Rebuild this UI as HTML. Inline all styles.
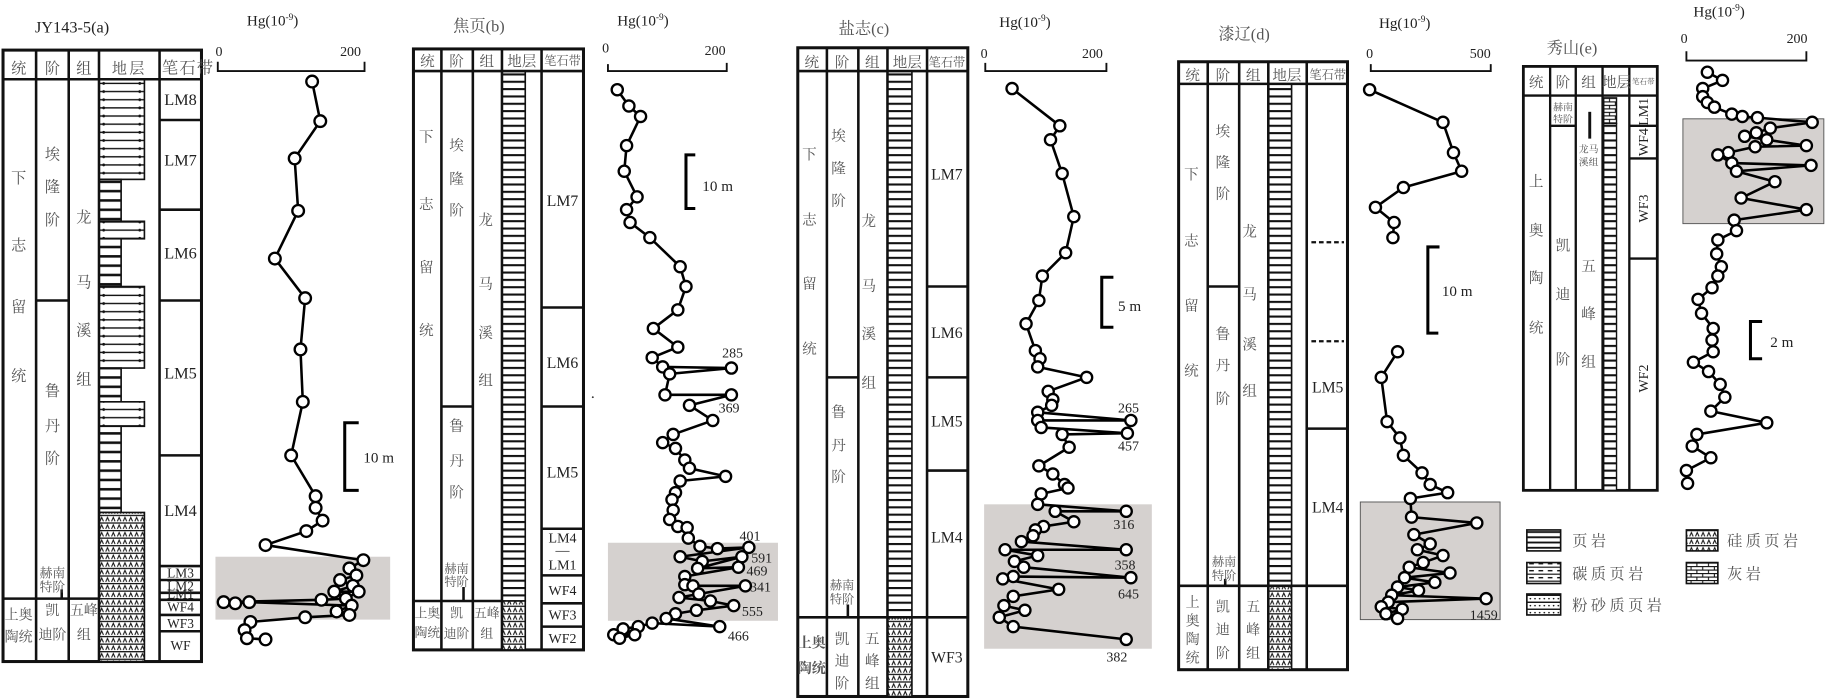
<!DOCTYPE html>
<html><head><meta charset="utf-8">
<style>
html,body{margin:0;padding:0;background:#fff;}
svg{display:block;}
.cj{font-family:"Liberation Serif","Noto Serif CJK SC",serif;fill:#555;}
.lt{font-family:"Liberation Serif",serif;fill:#222;}
</style></head>
<body>
<svg width="1825" height="700" viewBox="0 0 1567 601" xmlns="http://www.w3.org/2000/svg">
<defs>
<pattern id="psh" patternUnits="userSpaceOnUse" width="20" height="6.3"><rect width="20" height="6.3" fill="#fff"/><rect width="20" height="1.8" fill="#111"/></pattern>
<pattern id="pdot" patternUnits="userSpaceOnUse" x="85" y="68" width="39" height="7"><rect width="39" height="7" fill="#fff"/><rect y="3" width="39" height="1.2" fill="#111"/><circle cx="4" cy="3.6" r="1.2" fill="#111"/><circle cx="35" cy="3.6" r="1.2" fill="#111"/></pattern>
<pattern id="pnar" patternUnits="userSpaceOnUse" width="20" height="8"><rect width="20" height="8" fill="#fff"/><rect y="3" width="20" height="2.2" fill="#111"/></pattern>
<pattern id="psil" patternUnits="userSpaceOnUse" width="5" height="6.5"><rect width="5" height="6.5" fill="#fff"/><rect width="5" height="1.1" fill="#111"/><path d="M0.8,5.6 L2.3,2.2 L3.8,5.6" fill="none" stroke="#111" stroke-width="0.9"/></pattern>
<pattern id="plim" patternUnits="userSpaceOnUse" width="10" height="6"><rect width="10" height="6" fill="#fff"/><path d="M0,0.5H10M0,3.5H10M2,0.5V3.5M7,3.5V6.5" stroke="#111" stroke-width="0.9" fill="none"/></pattern>
<pattern id="pleg" patternUnits="userSpaceOnUse" width="10" height="4.5"><rect width="10" height="4.5" fill="#fff"/><rect y="1.5" width="10" height="1.6" fill="#111"/></pattern>
<pattern id="pcarb" patternUnits="userSpaceOnUse" width="8" height="6"><rect width="8" height="6" fill="#fff"/><rect y="0.5" width="8" height="1" fill="#111"/><rect x="1" y="3.4" width="4" height="1.2" fill="#111"/></pattern>
<pattern id="psilt" patternUnits="userSpaceOnUse" width="8" height="6"><rect width="8" height="6" fill="#fff"/><rect y="0.5" width="8" height="1.2" fill="#111"/><circle cx="2" cy="4" r="0.7" fill="#111"/><circle cx="6" cy="4" r="0.7" fill="#111"/></pattern>
</defs>

<!-- ================= PANEL A ================= -->
<text class="lt" x="30" y="28" font-size="14">JY143-5(a)</text>
<text class="lt" x="212" y="22" font-size="13">Hg(10<tspan dy="-5" font-size="8">-9</tspan><tspan dy="5">)</tspan></text>
<text class="lt" x="185" y="48" font-size="12">0</text>
<text class="lt" x="292" y="48" font-size="12">200</text>
<path d="M187,53V61H313V53" fill="none" stroke="#111" stroke-width="1.6"/>

<rect x="2.6" y="43" width="170.4" height="525" fill="#fff" stroke="#111" stroke-width="2.6"/>
<rect x="85" y="68" width="39" height="86" fill="url(#pdot)" stroke="#111" stroke-width="1.4"/>
<rect x="85" y="154" width="19" height="36" fill="url(#pnar)" stroke="#111" stroke-width="1.4"/>
<rect x="85" y="190" width="39" height="15" fill="url(#pdot)" stroke="#111" stroke-width="1.4"/>
<rect x="85" y="205" width="19" height="41" fill="url(#pnar)" stroke="#111" stroke-width="1.4"/>
<rect x="85" y="246" width="39" height="70" fill="url(#pdot)" stroke="#111" stroke-width="1.4"/>
<rect x="85" y="316" width="19" height="29" fill="url(#pnar)" stroke="#111" stroke-width="1.4"/>
<rect x="85" y="345" width="39" height="21" fill="url(#pdot)" stroke="#111" stroke-width="1.4"/>
<rect x="85" y="366" width="19" height="74" fill="url(#pnar)" stroke="#111" stroke-width="1.4"/>
<rect x="85" y="440" width="39" height="128" fill="url(#psil)" stroke="#111" stroke-width="1.4"/>
<path d="M2.6,68H173 M31,43V568 M59,43V568 M85,43V568 M137,43V568 M31,258H59 M2.6,514H85 M137,103H173 M137,180H173 M137,258H173 M137,391H173 M137,486H173 M137,498H173 M137,509H173 M137,515H173 M137,528H173 M137,542H173 M53,506V514" stroke="#111" stroke-width="2.2" fill="none"/>
<g class="cj" font-size="13" text-anchor="middle">
<text x="16" y="63">统</text><text x="45" y="63">阶</text><text x="72" y="63">组</text><text x="111" y="63" letter-spacing="2">地层</text>
<text x="16" y="157">下</text><text x="16" y="215">志</text><text x="16" y="268">留</text><text x="16" y="327">统</text>
<text x="45" y="137">埃</text><text x="45" y="165">隆</text><text x="45" y="193">阶</text>
<text x="45" y="340">鲁</text><text x="45" y="370">丹</text><text x="45" y="398">阶</text>
<text x="72" y="191">龙</text><text x="72" y="247">马</text><text x="72" y="288">溪</text><text x="72" y="330">组</text>
</g>
<text class="cj" x="139" y="63" font-size="14" letter-spacing="1">笔石带</text>
<g class="cj" font-size="11" text-anchor="middle">
<text x="45" y="496">赫南</text><text x="45" y="508">特阶</text>
</g>
<g class="cj" font-size="12" text-anchor="middle">
<text x="16" y="532">上奥</text><text x="16" y="551">陶统</text>
<text x="45" y="528">凯</text><text x="45" y="549">迪阶</text>
<text x="72" y="528">五峰</text><text x="72" y="549">组</text>
</g>
<g class="lt" font-size="14" text-anchor="middle">
<text x="155" y="90">LM8</text><text x="155" y="142">LM7</text><text x="155" y="222">LM6</text><text x="155" y="325">LM5</text><text x="155" y="443">LM4</text>
</g>
<g class="lt" font-size="11.5" text-anchor="middle">
<text x="155" y="496">LM3</text><text x="155" y="507">LM2</text><text x="155" y="514">LM1</text><text x="155" y="525">WF4</text><text x="155" y="539">WF3</text><text x="155" y="558">WF</text>
</g>

<rect x="185" y="478" width="150" height="54" fill="#d5d1cf"/>
<polyline fill="none" stroke="#000" stroke-width="2.2" stroke-linejoin="round" points="268,70 275,104 253,136 256,181 236,222 262,256 258,300 260,345 250,391 271,426 271,436 277,447 263,456 228,468 312,481 300,488 306,494 292,498 303,503 287,508 308,508 297,514 276,515 192,517 202,518 214,517 302,520 289,525 300,528 262,530 215,534 210,541 212,548 228,549"/>
<g fill="#fff" stroke="#000" stroke-width="2">
<circle cx="268" cy="70" r="5"/><circle cx="275" cy="104" r="5"/><circle cx="253" cy="136" r="5"/><circle cx="256" cy="181" r="5"/><circle cx="236" cy="222" r="5"/><circle cx="262" cy="256" r="5"/><circle cx="258" cy="300" r="5"/><circle cx="260" cy="345" r="5"/><circle cx="250" cy="391" r="5"/><circle cx="271" cy="426" r="5"/><circle cx="271" cy="436" r="5"/><circle cx="277" cy="447" r="5"/><circle cx="263" cy="456" r="5"/><circle cx="228" cy="468" r="5"/><circle cx="312" cy="481" r="5"/><circle cx="300" cy="488" r="5"/><circle cx="306" cy="494" r="5"/><circle cx="292" cy="498" r="5"/><circle cx="303" cy="503" r="5"/><circle cx="287" cy="508" r="5"/><circle cx="308" cy="508" r="5"/><circle cx="297" cy="514" r="5"/><circle cx="276" cy="515" r="5"/><circle cx="192" cy="517" r="5"/><circle cx="202" cy="518" r="5"/><circle cx="214" cy="517" r="5"/><circle cx="302" cy="520" r="5"/><circle cx="289" cy="525" r="5"/><circle cx="300" cy="528" r="5"/><circle cx="262" cy="530" r="5"/><circle cx="215" cy="534" r="5"/><circle cx="210" cy="541" r="5"/><circle cx="212" cy="548" r="5"/><circle cx="228" cy="549" r="5"/>
</g>
<path d="M308,363H296V421H308" fill="none" stroke="#000" stroke-width="2.6"/>
<text class="lt" x="312" y="397" font-size="13">10 m</text>

<!-- ================= PANEL B ================= -->
<text class="cj" x="389" y="27" font-size="14" fill="#444">焦页(b)</text>
<text class="lt" x="530" y="22" font-size="13">Hg(10<tspan dy="-5" font-size="8">-9</tspan><tspan dy="5">)</tspan></text>
<text class="lt" x="517" y="45" font-size="12">0</text>
<text class="lt" x="605" y="47" font-size="12">200</text>
<path d="M522,55V61H624V54" fill="none" stroke="#111" stroke-width="1.6"/>

<rect x="355" y="42" width="146" height="516" fill="#fff" stroke="#111" stroke-width="2.6"/>
<rect x="431" y="61" width="20" height="455" fill="url(#psh)" stroke="#111" stroke-width="1.4"/>
<rect x="431" y="516" width="20" height="42" fill="url(#psil)" stroke="#111" stroke-width="1.4"/>
<path d="M355,61H501 M379,42V558 M406,42V558 M431,42V558 M465,42V558 M379,349H406 M355,516H431 M465,264H501 M465,349H501 M465,454H501 M465,494H501 M465,518H501 M465,538H501 M398,504V516" stroke="#111" stroke-width="2.2" fill="none"/>
<g class="cj" font-size="12.5" text-anchor="middle">
<text x="367" y="57">统</text><text x="392" y="57">阶</text><text x="418" y="57">组</text><text x="448" y="57">地层</text>
<text x="366" y="122">下</text><text x="366" y="180">志</text><text x="366" y="234">留</text><text x="366" y="288">统</text>
<text x="392" y="129">埃</text><text x="392" y="158">隆</text><text x="392" y="185">阶</text>
<text x="392" y="370">鲁</text><text x="392" y="400">丹</text><text x="392" y="427">阶</text>
<text x="417" y="193">龙</text><text x="417" y="248">马</text><text x="417" y="290">溪</text><text x="417" y="331">组</text>
</g>
<text class="cj" x="483" y="56" font-size="10.5" text-anchor="middle" fill="#333">笔石带</text>
<g class="cj" font-size="10.5" text-anchor="middle">
<text x="392" y="492">赫南</text><text x="392" y="503">特阶</text>
</g>
<g class="cj" font-size="11" text-anchor="middle">
<text x="367" y="530">上奥</text><text x="367" y="547">陶统</text>
<text x="392" y="530">凯</text><text x="392" y="548">迪阶</text>
<text x="418" y="530">五峰</text><text x="418" y="548">组</text>
</g>
<g class="lt" font-size="13.5" text-anchor="middle">
<text x="483" y="177">LM7</text><text x="483" y="316">LM6</text><text x="483" y="410">LM5</text>
</g>
<g class="lt" font-size="12" text-anchor="middle">
<text x="483" y="466">LM4</text><text x="483" y="476">—</text><text x="483" y="489">LM1</text><text x="483" y="511">WF4</text><text x="483" y="532">WF3</text><text x="483" y="552">WF2</text>
</g>
<circle cx="509" cy="341" r="0.8" fill="#333"/>

<rect x="522" y="466" width="146" height="67" fill="#d5d1cf"/>
<polyline fill="none" stroke="#000" stroke-width="2.2" stroke-linejoin="round" points="530,77 540,91 550,100 538,125 536,147 547,169 538,180 541,191 558,204 584,229 589,246 582,266 561,282 582,298 560,307 569,315 628,316 575,321 571,339 628,339 592,348 612,361 578,373 569,380 580,385 588,395 592,402 623,409 584,413 580,423 577,429 578,438 575,446 582,452 590,453 591,462 601,469 616,471 643,470 584,478 603,482 637,478 599,488 634,487 588,495 588,502 595,503 640,503 600,510 583,513 610,516 630,520 598,524 580,527 572,531 618,538 560,535 548,538 535,540 527,545 545,545 532,548"/>
<g fill="#fff" stroke="#000" stroke-width="2">
<circle cx="530" cy="77" r="4.8"/><circle cx="540" cy="91" r="4.8"/><circle cx="550" cy="100" r="4.8"/><circle cx="538" cy="125" r="4.8"/><circle cx="536" cy="147" r="4.8"/><circle cx="547" cy="169" r="4.8"/><circle cx="538" cy="180" r="4.8"/><circle cx="541" cy="191" r="4.8"/><circle cx="558" cy="204" r="4.8"/><circle cx="584" cy="229" r="4.8"/><circle cx="589" cy="246" r="4.8"/><circle cx="582" cy="266" r="4.8"/><circle cx="561" cy="282" r="4.8"/><circle cx="582" cy="298" r="4.8"/><circle cx="560" cy="307" r="4.8"/><circle cx="569" cy="315" r="4.8"/><circle cx="628" cy="316" r="4.8"/><circle cx="575" cy="321" r="4.8"/><circle cx="571" cy="339" r="4.8"/><circle cx="628" cy="339" r="4.8"/><circle cx="592" cy="348" r="4.8"/><circle cx="612" cy="361" r="4.8"/><circle cx="578" cy="373" r="4.8"/><circle cx="569" cy="380" r="4.8"/><circle cx="580" cy="385" r="4.8"/><circle cx="588" cy="395" r="4.8"/><circle cx="592" cy="402" r="4.8"/><circle cx="623" cy="409" r="4.8"/><circle cx="584" cy="413" r="4.8"/><circle cx="580" cy="423" r="4.8"/><circle cx="577" cy="429" r="4.8"/><circle cx="578" cy="438" r="4.8"/><circle cx="575" cy="446" r="4.8"/><circle cx="582" cy="452" r="4.8"/><circle cx="590" cy="453" r="4.8"/><circle cx="591" cy="462" r="4.8"/><circle cx="601" cy="469" r="4.8"/><circle cx="616" cy="471" r="4.8"/><circle cx="643" cy="470" r="4.8"/><circle cx="584" cy="478" r="4.8"/><circle cx="603" cy="482" r="4.8"/><circle cx="637" cy="478" r="4.8"/><circle cx="599" cy="488" r="4.8"/><circle cx="634" cy="487" r="4.8"/><circle cx="588" cy="495" r="4.8"/><circle cx="588" cy="502" r="4.8"/><circle cx="595" cy="503" r="4.8"/><circle cx="640" cy="503" r="4.8"/><circle cx="600" cy="510" r="4.8"/><circle cx="583" cy="513" r="4.8"/><circle cx="610" cy="516" r="4.8"/><circle cx="630" cy="520" r="4.8"/><circle cx="598" cy="524" r="4.8"/><circle cx="580" cy="527" r="4.8"/><circle cx="572" cy="531" r="4.8"/><circle cx="618" cy="538" r="4.8"/><circle cx="560" cy="535" r="4.8"/><circle cx="548" cy="538" r="4.8"/><circle cx="535" cy="540" r="4.8"/><circle cx="527" cy="545" r="4.8"/><circle cx="545" cy="545" r="4.8"/><circle cx="532" cy="548" r="4.8"/>
</g>
<g class="lt" font-size="12">
<text x="620" y="307">285</text><text x="617" y="354">369</text><text x="635" y="464">401</text><text x="645" y="483">591</text><text x="641" y="494">469</text><text x="644" y="508">341</text><text x="637" y="529">555</text><text x="625" y="550">466</text>
</g>
<path d="M597,133H589V179H597" fill="none" stroke="#000" stroke-width="2.6"/>
<text class="lt" x="603" y="164" font-size="13">10 m</text>

<!-- ================= PANEL C ================= -->
<text class="cj" x="720" y="29" font-size="14" fill="#444">盐志(c)</text>
<text class="lt" x="858" y="23" font-size="13">Hg(10<tspan dy="-5" font-size="8">-9</tspan><tspan dy="5">)</tspan></text>
<text class="lt" x="842" y="50" font-size="12">0</text>
<text class="lt" x="929" y="50" font-size="12">200</text>
<path d="M846,54V61H950V54" fill="none" stroke="#111" stroke-width="1.6"/>

<rect x="685" y="41" width="146" height="557" fill="#fff" stroke="#111" stroke-width="2.6"/>
<rect x="762" y="61" width="21" height="469" fill="url(#psh)" stroke="#111" stroke-width="1.4"/>
<rect x="762" y="530" width="21" height="68" fill="url(#psil)" stroke="#111" stroke-width="1.4"/>
<path d="M685,61H831 M710,41V598 M737,41V598 M762,41V598 M796,41V598 M710,324H737 M685,530H831 M796,246H831 M796,324H831 M796,404H831 M728,519V530" stroke="#111" stroke-width="2.2" fill="none"/>
<g class="cj" font-size="12.5" text-anchor="middle">
<text x="697" y="58">统</text><text x="723" y="58">阶</text><text x="749" y="58">组</text><text x="779" y="58">地层</text>
<text x="695" y="137">下</text><text x="695" y="193">志</text><text x="695" y="248">留</text><text x="695" y="304">统</text>
<text x="720" y="121">埃</text><text x="720" y="149">隆</text><text x="720" y="177">阶</text>
<text x="720" y="358">鲁</text><text x="720" y="387">丹</text><text x="720" y="414">阶</text>
<text x="746" y="194">龙</text><text x="746" y="250">马</text><text x="746" y="291">溪</text><text x="746" y="333">组</text>
<text x="723" y="553">凯</text><text x="723" y="572">迪</text><text x="723" y="591">阶</text>
<text x="749" y="553">五</text><text x="749" y="572">峰</text><text x="749" y="591">组</text>
</g>
<text class="cj" x="813" y="57" font-size="10.5" text-anchor="middle" fill="#333">笔石带</text>
<g class="cj" font-size="10.5" text-anchor="middle">
<text x="723" y="506">赫南</text><text x="723" y="518">特阶</text>
</g>
<g class="cj" font-size="12" text-anchor="middle" font-weight="bold" fill="#333">
<text x="697" y="556">上奥</text><text x="697" y="578">陶统</text>
</g>
<g class="lt" font-size="13.5" text-anchor="middle">
<text x="813" y="154">LM7</text><text x="813" y="290">LM6</text><text x="813" y="366">LM5</text><text x="813" y="466">LM4</text><text x="813" y="569">WF3</text>
</g>

<rect x="845" y="433" width="144" height="124" fill="#d5d1cf"/>
<polyline fill="none" stroke="#000" stroke-width="2.2" stroke-linejoin="round" points="869,76 910,108 902,120 912,149 922,186 915,217 895,237 892,258 881,278 889,301 893,308 891,315 933,324 900,336 904,343 903,348 891,354 971,361 891,361 894,367 968,372 912,373 918,384 892,400 904,407 914,416 917,419 894,424 891,433 967,439 906,439 922,448 896,452 889,455 887,460 877,465 967,472 863,472 891,477 871,482 879,487 971,496 870,495 861,497 909,506 870,512 862,520 880,524 858,530 870,538 967,549"/>
<g fill="#fff" stroke="#000" stroke-width="2">
<circle cx="869" cy="76" r="4.8"/><circle cx="910" cy="108" r="4.8"/><circle cx="902" cy="120" r="4.8"/><circle cx="912" cy="149" r="4.8"/><circle cx="922" cy="186" r="4.8"/><circle cx="915" cy="217" r="4.8"/><circle cx="895" cy="237" r="4.8"/><circle cx="892" cy="258" r="4.8"/><circle cx="881" cy="278" r="4.8"/><circle cx="889" cy="301" r="4.8"/><circle cx="893" cy="308" r="4.8"/><circle cx="891" cy="315" r="4.8"/><circle cx="933" cy="324" r="4.8"/><circle cx="900" cy="336" r="4.8"/><circle cx="904" cy="343" r="4.8"/><circle cx="903" cy="348" r="4.8"/><circle cx="891" cy="354" r="4.8"/><circle cx="971" cy="361" r="4.8"/><circle cx="891" cy="361" r="4.8"/><circle cx="894" cy="367" r="4.8"/><circle cx="968" cy="372" r="4.8"/><circle cx="912" cy="373" r="4.8"/><circle cx="918" cy="384" r="4.8"/><circle cx="892" cy="400" r="4.8"/><circle cx="904" cy="407" r="4.8"/><circle cx="914" cy="416" r="4.8"/><circle cx="917" cy="419" r="4.8"/><circle cx="894" cy="424" r="4.8"/><circle cx="891" cy="433" r="4.8"/><circle cx="967" cy="439" r="4.8"/><circle cx="906" cy="439" r="4.8"/><circle cx="922" cy="448" r="4.8"/><circle cx="896" cy="452" r="4.8"/><circle cx="889" cy="455" r="4.8"/><circle cx="887" cy="460" r="4.8"/><circle cx="877" cy="465" r="4.8"/><circle cx="967" cy="472" r="4.8"/><circle cx="863" cy="472" r="4.8"/><circle cx="891" cy="477" r="4.8"/><circle cx="871" cy="482" r="4.8"/><circle cx="879" cy="487" r="4.8"/><circle cx="971" cy="496" r="4.8"/><circle cx="870" cy="495" r="4.8"/><circle cx="861" cy="497" r="4.8"/><circle cx="909" cy="506" r="4.8"/><circle cx="870" cy="512" r="4.8"/><circle cx="862" cy="520" r="4.8"/><circle cx="880" cy="524" r="4.8"/><circle cx="858" cy="530" r="4.8"/><circle cx="870" cy="538" r="4.8"/><circle cx="967" cy="549" r="4.8"/>
</g>
<g class="lt" font-size="12">
<text x="960" y="354">265</text><text x="960" y="387">457</text><text x="956" y="454">316</text><text x="957" y="489">358</text><text x="960" y="514">645</text><text x="950" y="568">382</text>
</g>
<path d="M956,238H946V281H956" fill="none" stroke="#000" stroke-width="2.6"/>
<text class="lt" x="960" y="267" font-size="13">5 m</text>

<!-- ================= PANEL D ================= -->
<text class="cj" x="1046" y="34" font-size="14" fill="#444">漆辽(d)</text>
<text class="lt" x="1184" y="24" font-size="13">Hg(10<tspan dy="-5" font-size="8">-9</tspan><tspan dy="5">)</tspan></text>
<text class="lt" x="1173" y="50" font-size="12">0</text>
<text class="lt" x="1262" y="50" font-size="12">500</text>
<path d="M1177,55V61H1280V55" fill="none" stroke="#111" stroke-width="1.6"/>

<rect x="1012" y="53" width="145" height="522" fill="#fff" stroke="#111" stroke-width="2.6"/>
<rect x="1089" y="72" width="20" height="431" fill="url(#psh)" stroke="#111" stroke-width="1.4"/>
<rect x="1089" y="503" width="20" height="72" fill="url(#psil)" stroke="#111" stroke-width="1.4"/>
<path d="M1012,72H1157 M1037,53V575 M1064,53V575 M1089,53V575 M1122,53V575 M1037,246H1064 M1012,503H1157 M1122,368H1157 M1052,497V503" stroke="#111" stroke-width="2.2" fill="none"/>
<path d="M1126,208H1154 M1126,293H1154" stroke="#111" stroke-width="2" stroke-dasharray="4,2.5" fill="none"/>
<g class="cj" font-size="12.5" text-anchor="middle">
<text x="1024" y="69">统</text><text x="1050" y="69">阶</text><text x="1076" y="69">组</text><text x="1105" y="69">地层</text>
<text x="1023" y="154">下</text><text x="1023" y="211">志</text><text x="1023" y="267">留</text><text x="1023" y="323">统</text>
<text x="1050" y="117">埃</text><text x="1050" y="144">隆</text><text x="1050" y="171">阶</text>
<text x="1050" y="291">鲁</text><text x="1050" y="318">丹</text><text x="1050" y="347">阶</text>
<text x="1073" y="203">龙</text><text x="1073" y="257">马</text><text x="1073" y="300">溪</text><text x="1073" y="340">组</text>
</g>
<text class="cj" x="1140" y="68" font-size="10.5" text-anchor="middle" fill="#333">笔石带</text>
<g class="cj" font-size="10.5" text-anchor="middle">
<text x="1051" y="486">赫南</text><text x="1051" y="498">特阶</text>
</g>
<g class="cj" font-size="12" text-anchor="middle">
<text x="1024" y="521">上</text><text x="1024" y="537">奥</text><text x="1024" y="553">陶</text><text x="1024" y="569">统</text>
<text x="1050" y="525">凯</text><text x="1050" y="545">迪</text><text x="1050" y="565">阶</text>
<text x="1076" y="525">五</text><text x="1076" y="545">峰</text><text x="1076" y="565">组</text>
</g>
<g class="lt" font-size="13.5" text-anchor="middle">
<text x="1140" y="337">LM5</text><text x="1140" y="440">LM4</text>
</g>

<rect x="1168" y="431" width="120" height="101" fill="#d5d1cf" stroke="#555" stroke-width="0.8"/>
<polyline fill="none" stroke="#000" stroke-width="2.2" stroke-linejoin="round" points="1176,77 1239,105 1248,131 1255,147 1205,161 1181,178 1197,191 1196,204"/>
<polyline fill="none" stroke="#000" stroke-width="2.2" stroke-linejoin="round" points="1200,302 1186,324 1191,362 1202,376 1205,391 1221,406 1228,416 1243,423 1211,428 1212,444 1268,449 1214,459 1228,467 1217,472 1239,477 1222,483 1210,487 1245,492 1206,496 1232,500 1200,504 1218,507 1195,511 1276,514 1192,517 1186,521 1204,523 1190,527 1200,531"/>
<g fill="#fff" stroke="#000" stroke-width="2">
<circle cx="1176" cy="77" r="4.8"/><circle cx="1239" cy="105" r="4.8"/><circle cx="1248" cy="131" r="4.8"/><circle cx="1255" cy="147" r="4.8"/><circle cx="1205" cy="161" r="4.8"/><circle cx="1181" cy="178" r="4.8"/><circle cx="1197" cy="191" r="4.8"/><circle cx="1196" cy="204" r="4.8"/>
<circle cx="1200" cy="302" r="4.8"/><circle cx="1186" cy="324" r="4.8"/><circle cx="1191" cy="362" r="4.8"/><circle cx="1202" cy="376" r="4.8"/><circle cx="1205" cy="391" r="4.8"/><circle cx="1221" cy="406" r="4.8"/><circle cx="1228" cy="416" r="4.8"/><circle cx="1243" cy="423" r="4.8"/><circle cx="1211" cy="428" r="4.8"/><circle cx="1212" cy="444" r="4.8"/><circle cx="1268" cy="449" r="4.8"/><circle cx="1214" cy="459" r="4.8"/><circle cx="1228" cy="467" r="4.8"/><circle cx="1217" cy="472" r="4.8"/><circle cx="1239" cy="477" r="4.8"/><circle cx="1222" cy="483" r="4.8"/><circle cx="1210" cy="487" r="4.8"/><circle cx="1245" cy="492" r="4.8"/><circle cx="1206" cy="496" r="4.8"/><circle cx="1232" cy="500" r="4.8"/><circle cx="1200" cy="504" r="4.8"/><circle cx="1218" cy="507" r="4.8"/><circle cx="1195" cy="511" r="4.8"/><circle cx="1276" cy="514" r="4.8"/><circle cx="1192" cy="517" r="4.8"/><circle cx="1186" cy="521" r="4.8"/><circle cx="1204" cy="523" r="4.8"/><circle cx="1190" cy="527" r="4.8"/><circle cx="1200" cy="531" r="4.8"/>
</g>
<text class="lt" x="1262" y="532" font-size="12">1459</text>
<path d="M1236,212H1226V286H1235" fill="none" stroke="#000" stroke-width="2.6"/>
<text class="lt" x="1238" y="254" font-size="13">10 m</text>

<!-- ================= PANEL E ================= -->
<text class="cj" x="1328" y="46" font-size="14" fill="#444">秀山(e)</text>
<text class="lt" x="1454" y="14" font-size="13">Hg(10<tspan dy="-5" font-size="8">-9</tspan><tspan dy="5">)</tspan></text>
<text class="lt" x="1443" y="37" font-size="12">0</text>
<text class="lt" x="1534" y="37" font-size="12">200</text>
<path d="M1448,44V52H1551V44" fill="none" stroke="#111" stroke-width="1.6"/>

<rect x="1308" y="57" width="115" height="364" fill="#fff" stroke="#111" stroke-width="2.4"/>
<rect x="1377" y="84" width="11" height="22" fill="url(#plim)" stroke="#111" stroke-width="1.2"/>
<rect x="1377" y="106" width="11" height="315" fill="url(#psh)" stroke="#111" stroke-width="1.2"/>
<path d="M1308,82H1423 M1331,57V421 M1353,57V421 M1376,57V421 M1399,57V421 M1331,108H1353 M1399,108H1423 M1399,136H1423 M1399,222H1423" stroke="#111" stroke-width="2" fill="none"/>
<path d="M1365,96V119" stroke="#111" stroke-width="2.5"/>
<g class="cj" font-size="12.5" text-anchor="middle">
<text x="1319" y="75">统</text><text x="1342" y="75">阶</text><text x="1364" y="75">组</text><text x="1388" y="75">地层</text>
<text x="1319" y="160">上</text><text x="1319" y="202">奥</text><text x="1319" y="243">陶</text><text x="1319" y="286">统</text>
<text x="1342" y="215">凯</text><text x="1342" y="257">迪</text><text x="1342" y="313">阶</text>
<text x="1364" y="233">五</text><text x="1364" y="274">峰</text><text x="1364" y="315">组</text>
</g>
<text class="cj" x="1411" y="72" font-size="6.5" text-anchor="middle" fill="#333">笔石带</text>
<g class="cj" font-size="8.5" text-anchor="middle">
<text x="1342" y="95">赫南</text><text x="1342" y="105">特阶</text>
<text x="1364" y="131">龙马</text><text x="1364" y="142">溪组</text>
</g>
<g class="lt" font-size="12" text-anchor="middle">
<text transform="translate(1415,96) rotate(-90)">LM1</text>
<text transform="translate(1415,122) rotate(-90)">WF4</text>
<text transform="translate(1415,179) rotate(-90)">WF3</text>
<text transform="translate(1415,325) rotate(-90)">WF2</text>
</g>

<rect x="1445" y="102" width="121" height="90" fill="#d5d1cf" stroke="#555" stroke-width="0.8"/>
<polyline fill="none" stroke="#000" stroke-width="2.2" stroke-linejoin="round" points="1466,62 1479,69 1462,76 1462,83 1466,88 1472,92 1487,98 1496,100 1509,101 1556,105 1520,110 1508,114 1498,117 1517,120 1551,125 1507,126 1484,131 1475,133 1487,140 1555,142 1491,147 1524,156 1495,170 1551,180 1489,189 1491,198 1475,206 1474,218 1478,229 1475,237 1470,247 1458,257 1461,269 1471,282 1470,292 1471,302 1454,311 1467,319 1477,330 1481,341 1469,353 1517,363 1457,373 1453,383 1469,393 1448,404 1449,415"/>
<g fill="#fff" stroke="#000" stroke-width="2">
<circle cx="1466" cy="62" r="4.8"/><circle cx="1479" cy="69" r="4.8"/><circle cx="1462" cy="76" r="4.8"/><circle cx="1462" cy="83" r="4.8"/><circle cx="1466" cy="88" r="4.8"/><circle cx="1472" cy="92" r="4.8"/><circle cx="1487" cy="98" r="4.8"/><circle cx="1496" cy="100" r="4.8"/><circle cx="1509" cy="101" r="4.8"/><circle cx="1556" cy="105" r="4.8"/><circle cx="1520" cy="110" r="4.8"/><circle cx="1508" cy="114" r="4.8"/><circle cx="1498" cy="117" r="4.8"/><circle cx="1517" cy="120" r="4.8"/><circle cx="1551" cy="125" r="4.8"/><circle cx="1507" cy="126" r="4.8"/><circle cx="1484" cy="131" r="4.8"/><circle cx="1475" cy="133" r="4.8"/><circle cx="1487" cy="140" r="4.8"/><circle cx="1555" cy="142" r="4.8"/><circle cx="1491" cy="147" r="4.8"/><circle cx="1524" cy="156" r="4.8"/><circle cx="1495" cy="170" r="4.8"/><circle cx="1551" cy="180" r="4.8"/><circle cx="1489" cy="189" r="4.8"/><circle cx="1491" cy="198" r="4.8"/><circle cx="1475" cy="206" r="4.8"/><circle cx="1474" cy="218" r="4.8"/><circle cx="1478" cy="229" r="4.8"/><circle cx="1475" cy="237" r="4.8"/><circle cx="1470" cy="247" r="4.8"/><circle cx="1458" cy="257" r="4.8"/><circle cx="1461" cy="269" r="4.8"/><circle cx="1471" cy="282" r="4.8"/><circle cx="1470" cy="292" r="4.8"/><circle cx="1471" cy="302" r="4.8"/><circle cx="1454" cy="311" r="4.8"/><circle cx="1467" cy="319" r="4.8"/><circle cx="1477" cy="330" r="4.8"/><circle cx="1481" cy="341" r="4.8"/><circle cx="1469" cy="353" r="4.8"/><circle cx="1517" cy="363" r="4.8"/><circle cx="1457" cy="373" r="4.8"/><circle cx="1453" cy="383" r="4.8"/><circle cx="1469" cy="393" r="4.8"/><circle cx="1448" cy="404" r="4.8"/><circle cx="1449" cy="415" r="4.8"/>
</g>
<path d="M1513,276H1503V308H1513" fill="none" stroke="#000" stroke-width="2.6"/>
<text class="lt" x="1520" y="298" font-size="13">2 m</text>

<!-- ================= LEGEND ================= -->
<rect x="1311" y="455" width="29" height="18" fill="url(#pleg)" stroke="#111" stroke-width="1.4"/>
<rect x="1311" y="483" width="29" height="18" fill="url(#pcarb)" stroke="#111" stroke-width="1.4"/>
<rect x="1311" y="510" width="29" height="18" fill="url(#psilt)" stroke="#111" stroke-width="1.4"/>
<rect x="1448" y="455" width="27" height="18" fill="url(#psil)" stroke="#111" stroke-width="1.4"/>
<rect x="1448" y="483" width="27" height="18" fill="url(#plim)" stroke="#111" stroke-width="1.4"/>
<g class="cj" font-size="13" letter-spacing="3">
<text x="1350" y="469">页岩</text>
<text x="1350" y="497">碳质页岩</text>
<text x="1350" y="524">粉砂质页岩</text>
<text x="1483" y="469">硅质页岩</text>
<text x="1483" y="497">灰岩</text>
</g>
</svg>
</body></html>
